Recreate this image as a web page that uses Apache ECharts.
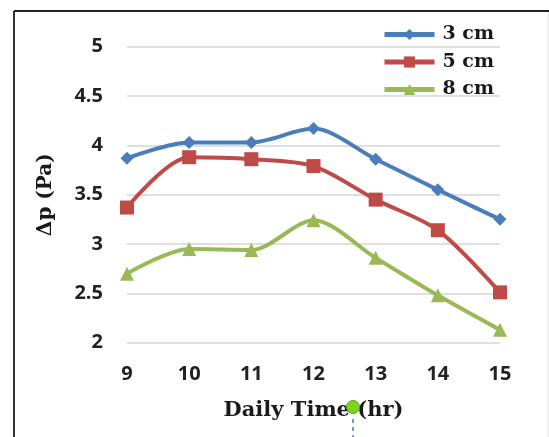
<!DOCTYPE html>
<html>
<head>
<meta charset="utf-8">
<script src="https://cdn.jsdelivr.net/npm/echarts@6/dist/echarts.min.js"></script>
<style>
html,body{margin:0;padding:0;background:#fff;}
#c{width:549px;height:437px;}
</style>
</head>
<body>
<div id="c"></div>
<script>
var hours = [9, 10, 11, 12, 13, 14, 15];
var s3cm = [3.87, 4.03, 4.03, 4.17, 3.86, 3.55, 3.25];
var s5cm = [3.37, 3.88, 3.86, 3.79, 3.45, 3.14, 2.51];
var s8cm = [2.70, 2.95, 2.94, 3.24, 2.86, 2.48, 2.13];
var yTicks = ['2', '2.5', '3', '3.5', '4', '4.5', '5'];
var seriesNames = ['3 cm', '5 cm', '8 cm'];

function pairs(arr) { return hours.map(function (h, i) { return [h, arr[i]]; }); }

var chart = echarts.init(document.getElementById('c'), null, {renderer: 'canvas'});
var serif = '"DejaVu Serif", "Liberation Serif", serif';
var sans = '"Open Sans", "Liberation Sans", sans-serif';

chart.setOption({
  animation: false,
  backgroundColor: '#ffffff',
  grid: {left: 127, right: 49, top: 46.7, bottom: 94.3, containLabel: false},
  legend: {
    orient: 'vertical',
    left: 382,
    top: 25,
    padding: 0,
    itemWidth: 50,
    itemHeight: 14,
    itemGap: 8.5,
    data: seriesNames,
    lineStyle: {width: 5},
    textStyle: {fontFamily: serif, fontWeight: 'bold', fontSize: 19, color: '#1a1a1a', lineHeight: 18, padding: [0, 0, 0, 3]}
  },
  xAxis: {
    type: 'value',
    min: 9, max: 15, interval: 1,
    name: 'Daily Time (hr)',
    nameLocation: 'middle',
    nameGap: 57,
    nameTextStyle: {fontFamily: serif, fontWeight: 'bold', fontSize: 21, color: '#1a1a1a'},
    axisLine: {show: false},
    axisTick: {show: false},
    splitLine: {show: false},
    axisLabel: {margin: 22, fontFamily: sans, fontWeight: 'bold', fontSize: 20, color: '#222'}
  },
  yAxis: {
    type: 'value',
    min: 2, max: 5, interval: 0.5,
    name: 'Δp (Pa)',
    nameLocation: 'middle',
    nameGap: 71,
    nameRotate: 90,
    nameTextStyle: {fontFamily: serif, fontWeight: 'bold', fontSize: 20, color: '#1a1a1a'},
    axisLine: {show: false},
    axisTick: {show: false},
    splitLine: {lineStyle: {color: '#d4d4d4', width: 1.5}},
    axisLabel: {
      margin: 24, fontFamily: sans, fontWeight: 'bold', fontSize: 20, color: '#222',
      formatter: function (v) { var s = String(v); return yTicks.indexOf(s) >= 0 ? s : ''; }
    }
  },
  series: [
    {name: seriesNames[0], type: 'line', smooth: 0.3, data: pairs(s3cm), symbol: 'diamond', symbolSize: 13,
     lineStyle: {width: 4, color: '#4a7ebb'}, itemStyle: {color: '#4a7ebb'}},
    {name: seriesNames[1], type: 'line', smooth: 0.3, data: pairs(s5cm), symbol: 'rect', symbolSize: 14,
     lineStyle: {width: 4, color: '#be4b48'}, itemStyle: {color: '#be4b48'}},
    {name: seriesNames[2], type: 'line', smooth: 0.3, data: pairs(s8cm), symbol: 'triangle', symbolSize: 14,
     lineStyle: {width: 4, color: '#98b954'}, itemStyle: {color: '#98b954'}}
  ],
  graphic: [
    {type: 'line', shape: {x1: 14, y1: 11, x2: 549, y2: 11}, style: {stroke: '#222', lineWidth: 2}},
    {type: 'line', shape: {x1: 14, y1: 11, x2: 14, y2: 437}, style: {stroke: '#333', lineWidth: 2}},
    {type: 'line', shape: {x1: 548, y1: 12, x2: 548, y2: 437}, style: {stroke: '#e0e0e0', lineWidth: 1}},
    {type: 'line', shape: {x1: 353, y1: 419, x2: 353, y2: 437}, style: {stroke: '#4a7ebb', lineWidth: 1.5, lineDash: [4, 4]}, z: 100},
    {type: 'circle', shape: {cx: 353, cy: 407, r: 6.5}, style: {fill: '#7ed321', stroke: '#5aa51a', lineWidth: 1}, z: 100}
  ]
});
</script>
</body>
</html>
